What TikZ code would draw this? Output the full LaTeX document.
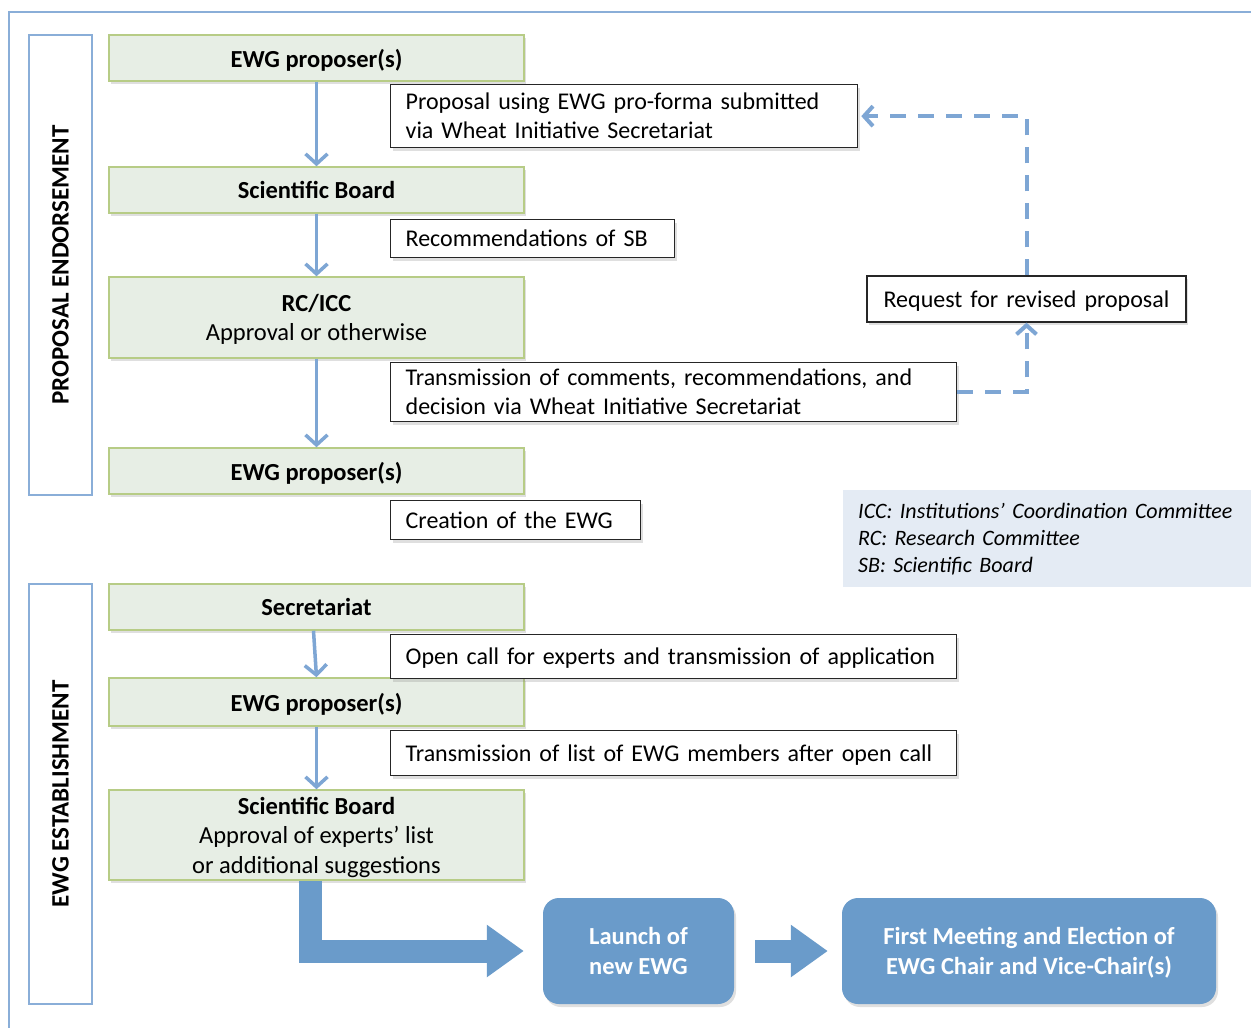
\documentclass[tikz,border=0pt]{standalone}
\usepackage{fontspec}
\setmainfont{Carlito}
\usetikzlibrary{arrows.meta,shadows}
\definecolor{frameblue}{HTML}{8AAED8}
\definecolor{arrowblue}{HTML}{7EA6D4}
\definecolor{boxblue}{HTML}{6A9BCA}
\definecolor{gfill}{HTML}{E7EEE5}
\definecolor{gline}{HTML}{B7CC86}
\definecolor{legfill}{HTML}{E4EBF4}
\begin{document}
\begin{tikzpicture}[x=1pt,y=-1pt,
  softshadow/.style={drop shadow={shadow xshift=2pt,shadow yshift=-3pt,opacity=0.25}},
  gbox/.style={draw=gline, line width=1.5pt, fill=gfill, minimum width=415pt, align=center,
    inner ysep=3pt, text depth=0pt, font=\fontsize{24.5}{29.5}\selectfont, softshadow},
  lbox/.style={draw=black!85, line width=1.3pt, fill=white, inner xsep=15pt, inner ysep=3pt,
    text depth=0pt, align=left, anchor=north west, font=\fontsize{24}{29}\selectfont, softshadow},
  twoline/.style={text depth=29pt},
  sidebox/.style={draw=frameblue, line width=2pt, rotate=90, font=\bfseries\fontsize{25}{29}\selectfont},
  thinarrow/.style={draw=arrowblue, line width=3.5pt, -{Straight Barb[length=10pt,width=22pt]}},
  dasharrow/.style={draw=arrowblue, line width=4pt, dash pattern=on 16pt off 12pt,
    -{Straight Barb[length=9pt,width=20pt]}},
  bigarrow/.style={draw=boxblue, line width=23pt, line join=miter,
    -{Triangle[length=37pt,width=50pt]}},
  rbox/.style={fill=boxblue, rounded corners=16pt, text=white, align=center, text depth=0pt,
    font=\bfseries\fontsize{24.5}{30}\selectfont, softshadow},
  legend/.style={fill=legfill, anchor=north west, inner xsep=15pt, align=left,
    font=\itshape\fontsize{22}{27}\selectfont}
]
\useasboundingbox (0,0) rectangle (1251,1028);
\clip (0,0) rectangle (1251,1028);
\fill[white] (0,0) rectangle (1251,1028);
\draw[frameblue, line width=2pt] (9,12) rectangle (1300,1100);

% side labels
\node[sidebox, minimum width=460pt, minimum height=63pt] (s1) at (60.5,265) {PROPOSAL ENDORSEMENT};
\node[sidebox, minimum width=420pt, minimum height=63pt] (s2) at (60.5,794) {EWG ESTABLISHMENT};

% green boxes
\node[gbox, minimum height=46pt] (b1) at (316.5,58) {\bfseries EWG proposer(s)};
\node[gbox, minimum height=46pt] (b2) at (316.5,190) {\bfseries Scientific Board};
\node[gbox, minimum height=81pt] (b3) at (316.5,317.5) {\textbf{RC/ICC}\\Approval or otherwise};
\node[gbox, minimum height=46pt] (b4) at (316.5,471) {\bfseries EWG proposer(s)};
\node[gbox, minimum height=46pt] (b5) at (316.5,607) {\bfseries Secretariat};
\node[gbox, minimum height=48pt] (b6) at (316.5,702) {\bfseries EWG proposer(s)};
\node[gbox, minimum height=90pt] (b7) at (316.5,835) {\textbf{Scientific Board}\\Approval of experts’ list\\or additional suggestions};

% label boxes
\node[lbox, twoline, text width=437pt, minimum height=63pt] (l1) at (390,84) {Proposal using EWG pro-forma submitted\\via Wheat Initiative Secretariat};
\node[lbox, text width=254pt, minimum height=38pt] (l2) at (390,219) {Recommendations of SB};
\node[lbox, twoline, text width=536pt, minimum height=59pt] (l3) at (390,362) {Transmission of comments, recommendations, and\\decision via Wheat Initiative Secretariat};
\node[lbox, text width=220pt, minimum height=39pt] (l4) at (390,500) {Creation of the EWG};
\node[lbox, text width=536pt, minimum height=44pt] (l5) at (390,634) {Open call for experts and transmission of application};
\node[lbox, text width=536pt, minimum height=45pt] (l6) at (390,730) {Transmission of list of EWG members after open call};
\node[lbox, anchor=center, align=center, text width=289pt, minimum height=46pt] (req) at (1026.5,299) {Request for revised proposal};

% legend
\node[legend, text width=400pt, minimum height=97pt] (leg) at (843,490) {ICC: Institutions’ Coordination Committee\\RC: Research Committee\\SB: Scientific Board};

% thin arrows
\draw[thinarrow] (b1.south) -- (b2.north);
\draw[thinarrow] (b2.south) -- (b3.north);
\draw[thinarrow] (b3.south) -- (b4.north);
\draw[thinarrow] ([xshift=-3pt]b5.south) -- (b6.north);
\draw[thinarrow] (b6.south) -- (b7.north);

% dashed feedback
\draw[dasharrow] (l3.east) -- (l3.east -| req.south) -- (req.south);
\draw[dasharrow, shorten >=3pt] (req.north) -- (req.north |- l1.east) -- (l1.east);

% bottom boxes
\node[rbox, minimum width=191pt, minimum height=106pt] (launch) at (638.5,951) {Launch of\\new EWG};
\node[rbox, minimum width=374pt, minimum height=106pt] (first) at (1029,951) {First Meeting and Election of\\EWG Chair and Vice-Chair(s)};

% big arrows
\draw[bigarrow, shorten >=19pt] ([xshift=-6pt]b7.south) |- (launch.west);
\draw[bigarrow, shorten <=21pt, shorten >=14pt] (launch.east) -- (first.west);
\end{tikzpicture}
\end{document}
